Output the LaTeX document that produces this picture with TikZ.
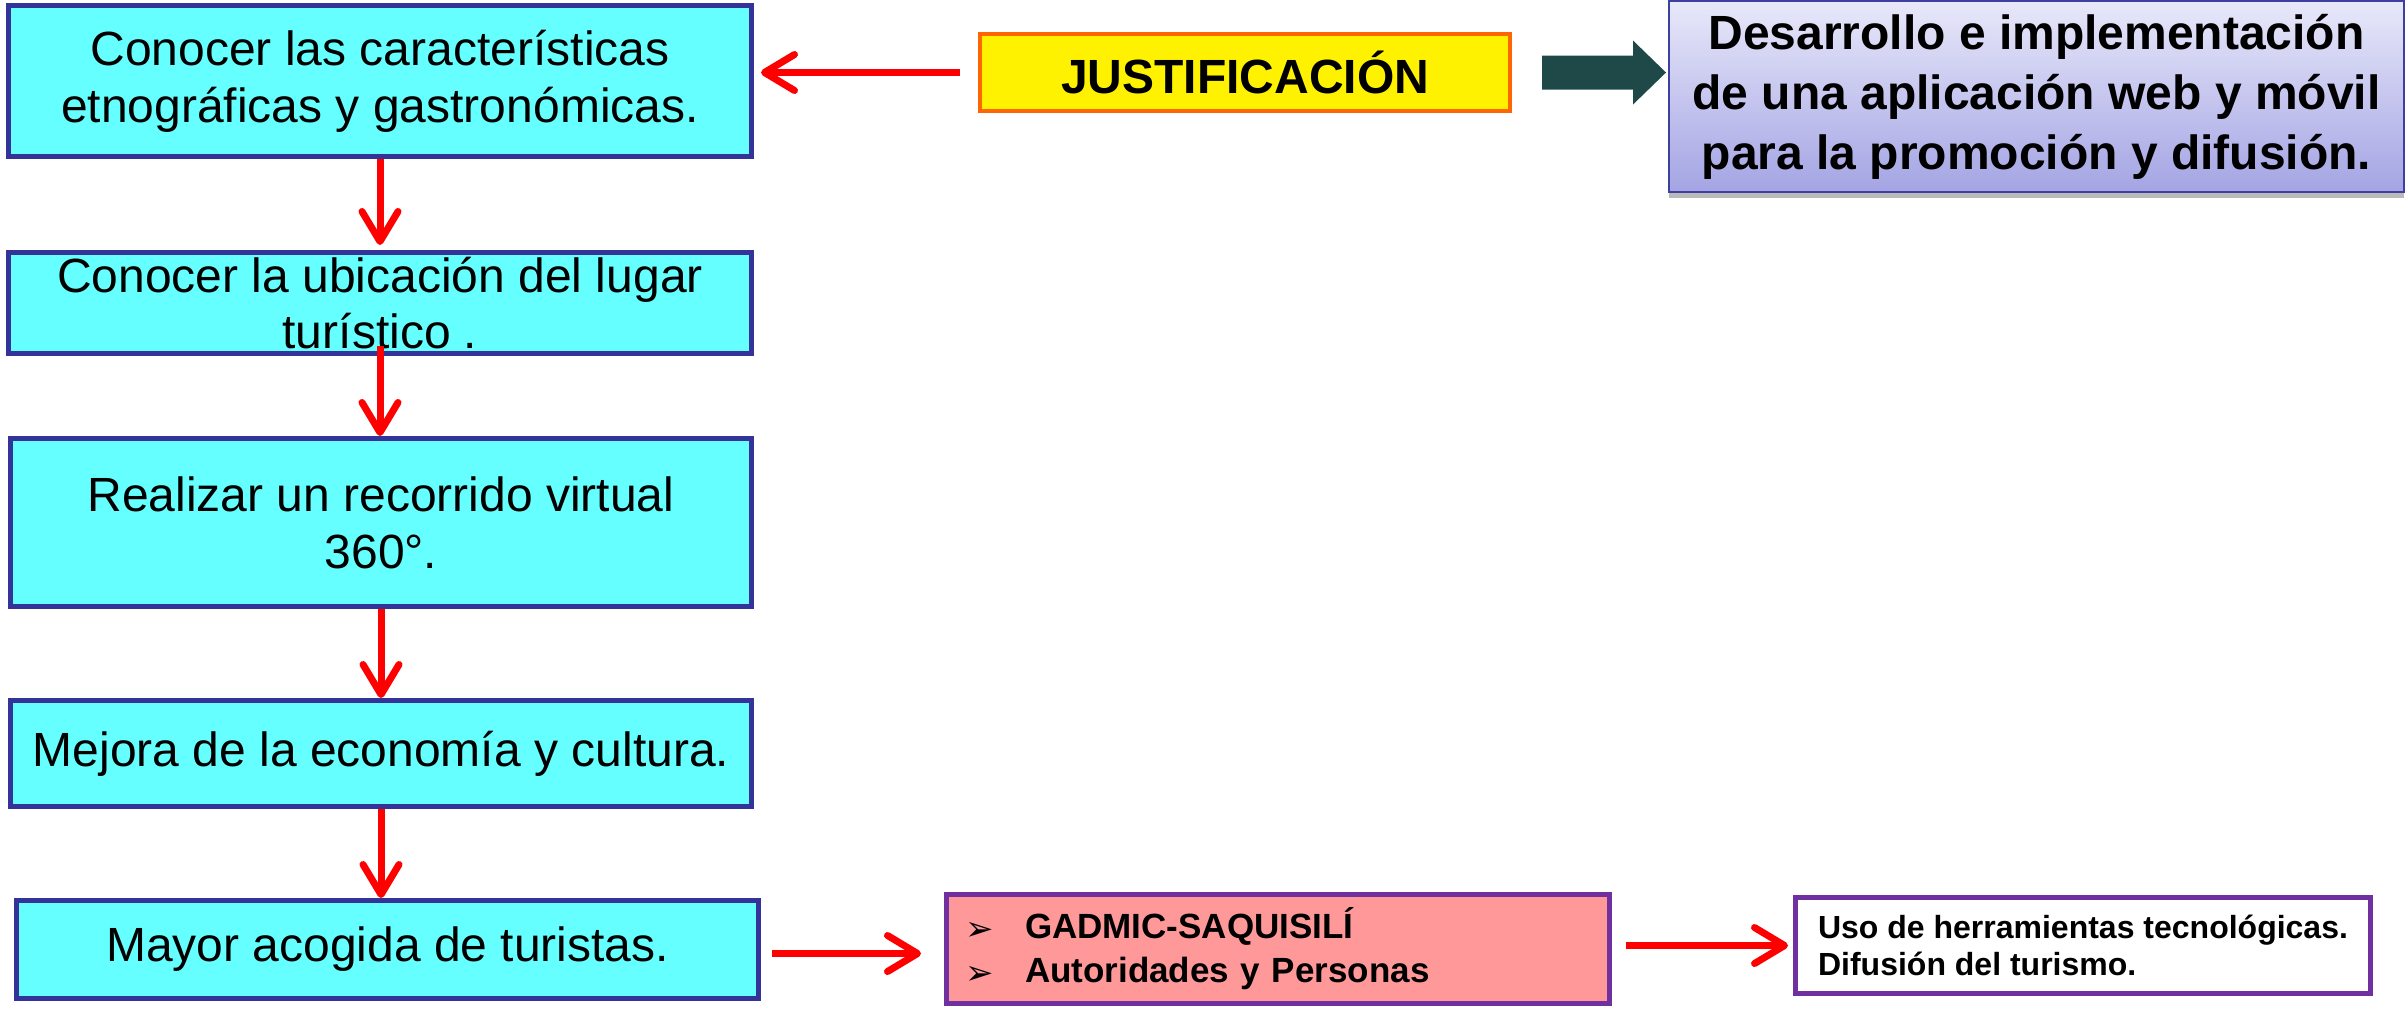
\documentclass[tikz,border=0pt]{standalone}
\usepackage{fontspec}
\setmainfont{Liberation Sans}
\newfontfamily\dejavu{DejaVu Sans}
\usetikzlibrary{arrows.meta,shadows}
\definecolor{cyanbox}{HTML}{66FFFF}
\definecolor{boxblue}{HTML}{333399}
\definecolor{justorange}{HTML}{FF6600}
\definecolor{pinkbox}{HTML}{FF9999}
\definecolor{purp}{HTML}{7030A0}
\definecolor{destop}{HTML}{E8E8FA}
\definecolor{desbot}{HTML}{A4A4E4}
\definecolor{desborder}{HTML}{3F3F9F}
\definecolor{blockcol}{HTML}{1F4949}
\newcommand\mybullet{\makebox[28pt][l]{\hspace*{-2pt}\raisebox{-1pt}{\dejavu\fontsize{17}{17}\selectfont ➢}}}
\begin{document}
\begin{tikzpicture}[x=0.5pt,y=-0.5pt,
  cbox/.style={draw=boxblue, line width=2.5pt, fill=cyanbox, align=center, inner sep=0pt,
    font=\fontsize{24}{28.5}\selectfont},
  redarr/.style={draw=red, line width=3.5pt, -{Straight Barb[length=15pt,width=18pt,round]}},
]
\useasboundingbox (0,0) rectangle (2407,1009);

% left column
\node[cbox, minimum width=371.5pt, minimum height=75.5pt] (b1) at (380,81)
  {Conocer las características\\etnográficas y gastronómicas.};
\node[cbox, minimum width=371.5pt, minimum height=50.5pt, font=\fontsize{24}{28}\selectfont] (b2) at (380,303)
  {Conocer la ubicación del lugar\\turístico .};
\node[cbox, minimum width=370.5pt, minimum height=84pt] (b3) at (381,522.5)
  {Realizar un recorrido virtual\\360°.};
\node[cbox, minimum width=370.5pt, minimum height=53pt] (b4) at (381,753.5)
  {Mejora de la economía y cultura.};
\node[cbox, minimum width=371pt, minimum height=49pt] (b5) at (387.5,949.5)
  {Mayor acogida de turistas.};

% top row
\node[draw=justorange, line width=2pt, fill=yellow, minimum width=265pt, minimum height=38.5pt,
  inner sep=0pt, font=\bfseries\fontsize{24}{28}\selectfont] (just) at (1245,72.5) {JUSTIFICACIÓN};
\node[draw=desborder, line width=1pt, top color=destop, bottom color=desbot,
  drop shadow={shadow xshift=0pt,shadow yshift=-3pt,opacity=0.45,fill=black!60},
  minimum width=367.5pt, minimum height=95.5pt, inner sep=0pt, align=center,
  font=\bfseries\fontsize{24}{30}\selectfont] (des) at (2036.5,96.5)
  {Desarrollo e implementación\\de una aplicación web y móvil\\para la promoción y difusión.};

% bottom row
\node[draw=purp, line width=2.5pt, fill=pinkbox, text width=309pt, inner xsep=11.25pt, inner ysep=0pt,
  minimum height=54.5pt, align=left, font=\bfseries\fontsize{17.5}{22}\selectfont] (gad) at (1278,949)
  {\mybullet GADMIC-SAQUISILÍ\\\mybullet Autoridades y Personas};
\node[draw=purp, line width=2.5pt, fill=white, minimum width=287.5pt, minimum height=48pt,
  inner sep=0pt, align=left, font=\bfseries\fontsize{16}{18.5}\selectfont] (uso) at (2083,945.5)
  {Uso de herramientas tecnológicas.\\Difusión del turismo.};

% connectors
\draw[redarr, shorten <=9pt, shorten >=3.5pt] (just.west) -- (just.west -| b1.east);
\draw[redarr, shorten >=2.5pt] (b1.south) -- (b1.south |- b2.north);
\draw[redarr, shorten <=-5pt] (b2.south) -- (b2.south |- b3.north);
\draw[redarr] (b3.south) -- (b3.south |- b4.north);
\draw[redarr] (b4.south) -- (b4.south |- b5.north);
\draw[redarr, shorten <=5.5pt, shorten >=11.5pt] ([yshift=-2pt]b5.east) -- ([yshift=-2pt]b5.east -| gad.west);
\draw[redarr, shorten <=7pt, shorten >=2.5pt] (gad.east |- uso.west) -- (uso.west);

% block arrow
\coordinate (jd) at (just.east -| des.west);
\fill[blockcol] ([xshift=15pt,yshift=8.5pt]just.east) -- ([xshift=-17.5pt,yshift=8.5pt]jd)
  -- ([xshift=-17.5pt,yshift=16pt]jd) -- ([xshift=-1pt]jd) -- ([xshift=-17.5pt,yshift=-16pt]jd)
  -- ([xshift=-17.5pt,yshift=-8.5pt]jd) -- ([xshift=15pt,yshift=-8.5pt]just.east) -- cycle;
\end{tikzpicture}
\end{document}
